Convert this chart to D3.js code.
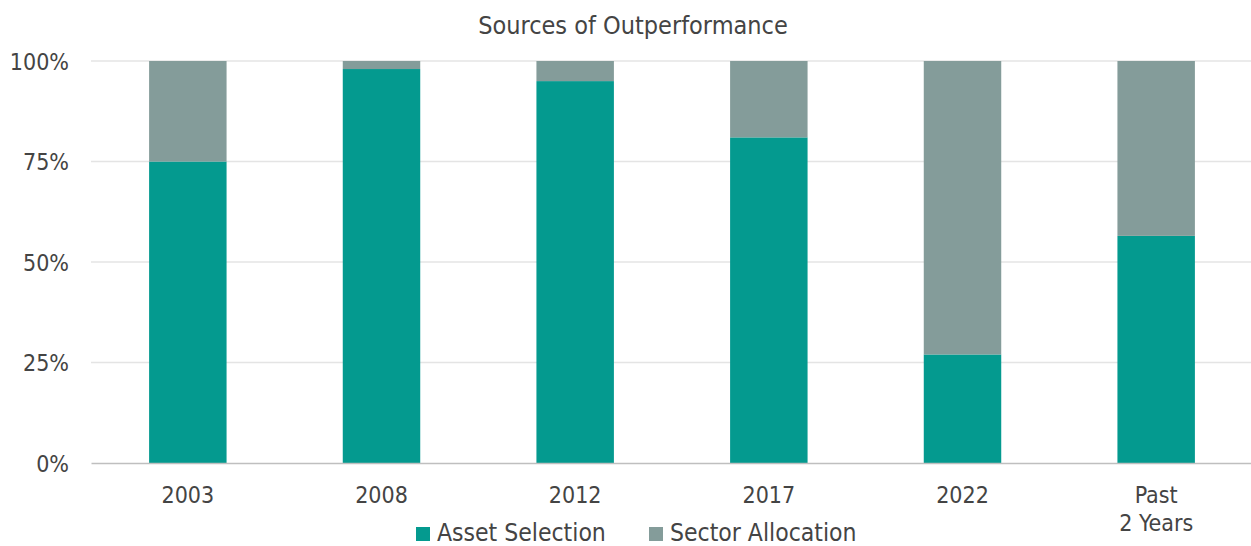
<!DOCTYPE html>
<html>
<head>
<meta charset="utf-8">
<script src="https://cdn.jsdelivr.net/npm/d3@7"></script>
<style>
  html, body { margin: 0; padding: 0; background: #fff; }
  svg { display: block; font-family: "DejaVu Sans Condensed", "DejaVu Sans", sans-serif; font-stretch: condensed; }
</style>
</head>
<body>
<svg id="chart" width="1251" height="546"></svg>
<script>
// Periods on the x axis (multi-line labels split on "\n")
const categories = ["2003", "2008", "2012", "2017", "2022", "Past\n2 Years"];
// Share of outperformance from each source, in percent
const assetSelection = [75, 98, 95, 81, 27, 56.5];
const sectorAllocation = [25, 2, 5, 19, 73, 43.5];
const seriesNames = ["Asset Selection", "Sector Allocation"];
const yTicks = [0, 25, 50, 75, 100];

const colors = { "Asset Selection": "#049a8f", "Sector Allocation": "#849c9a" };
const textColor = "#444";

const width = 1251, height = 546;
const margin = { top: 61, right: -2, bottom: 83, left: 91 };
const innerW = width - margin.left - margin.right;
const innerH = height - margin.top - margin.bottom;

const svg = d3.select("#chart");

const rows = categories.map((c, i) => ({
  category: c,
  "Asset Selection": assetSelection[i],
  "Sector Allocation": sectorAllocation[i]
}));
const stacked = d3.stack().keys(seriesNames)(rows);

const x = d3.scaleBand().domain(categories).range([0, innerW]).paddingInner(0.6).paddingOuter(0.3);
const y = d3.scaleLinear().domain([0, 100]).range([innerH, 0]);

const g = svg.append("g").attr("transform", `translate(${margin.left},${margin.top})`);

// Horizontal gridlines
g.append("g")
  .selectAll("line")
  .data(yTicks.filter(t => t > 0))
  .join("line")
  .attr("x1", 0).attr("x2", innerW)
  .attr("y1", d => y(d)).attr("y2", d => y(d))
  .attr("stroke", "#e4e4e4").attr("stroke-width", 1.5);

// Stacked bars
g.append("g")
  .selectAll("g")
  .data(stacked)
  .join("g")
  .attr("fill", d => colors[d.key])
  .selectAll("rect")
  .data(d => d)
  .join("rect")
  .attr("x", d => x(d.data.category))
  .attr("width", x.bandwidth())
  .attr("y", d => y(d[1]))
  .attr("height", d => y(d[0]) - y(d[1]));

const font = "DejaVu Sans Condensed, DejaVu Sans, sans-serif";

// Y axis
const yAxis = g.append("g")
  .call(d3.axisLeft(y).tickValues(yTicks).tickFormat(d => d + "%").tickSize(0).tickPadding(22));
yAxis.select(".domain").remove();
yAxis.selectAll("text").attr("font-size", 23).attr("fill", textColor)
  .attr("font-family", font).attr("dy", "0.36em");

// X axis
const xAxis = g.append("g")
  .attr("transform", `translate(0,${innerH})`)
  .call(d3.axisBottom(x).tickSize(0).tickPadding(0));
xAxis.select(".domain").attr("stroke", "#bfbfbf").attr("stroke-width", 1.5);
xAxis.selectAll(".tick text").each(function(d) {
  const t = d3.select(this);
  t.text(null).attr("font-size", 23).attr("fill", textColor)
    .attr("font-family", font).attr("y", 0).attr("dy", null);
  d.split("\n").forEach((line, i) => {
    t.append("tspan").attr("x", 0).attr("y", 40 + i * 28).text(line);
  });
});

// Title
svg.append("text")
  .attr("x", 633).attr("y", 34)
  .attr("text-anchor", "middle")
  .attr("font-size", 25)
  .attr("fill", textColor)
  .text("Sources of Outperformance");

// Legend
const legend = svg.append("g").attr("transform", "translate(416,533)");
const legendX = [0, 233];
seriesNames.forEach((name, i) => {
  const item = legend.append("g").attr("transform", `translate(${legendX[i]},0)`);
  item.append("rect").attr("x", 0).attr("y", -6).attr("width", 14).attr("height", 14)
    .attr("fill", colors[name]);
  item.append("text").attr("x", 21).attr("y", 0).attr("dy", "0.34em")
    .attr("font-size", 24.5).attr("fill", textColor).text(name);
});
</script>
</body>
</html>
